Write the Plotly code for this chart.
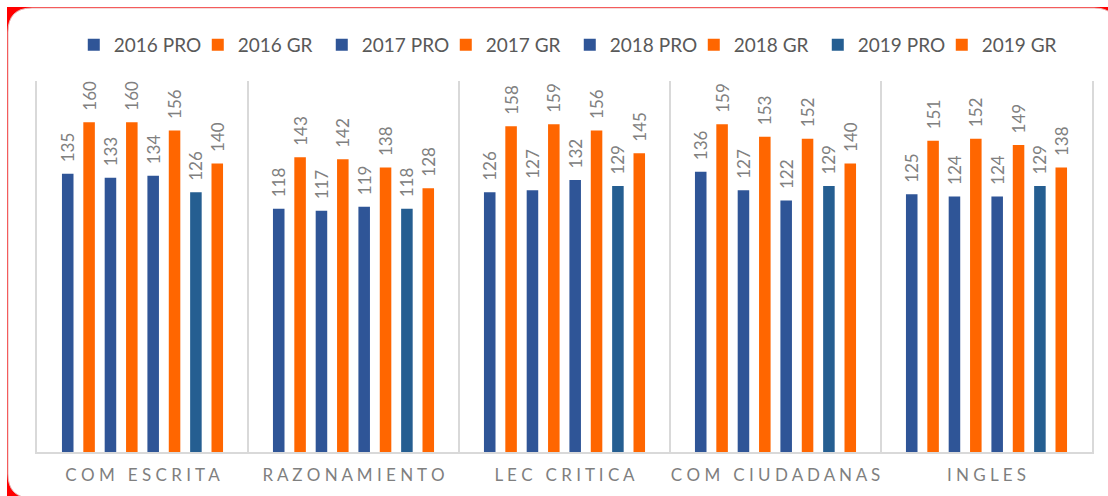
import plotly.graph_objects as go

categories = ["COM ESCRITA", "RAZONAMIENTO", "LEC CRITICA", "COM CIUDADANAS", "INGLES"]
series_names = ["2016 PRO", "2016 GR", "2017 PRO", "2017 GR", "2018 PRO", "2018 GR", "2019 PRO", "2019 GR"]
pro_2016 = [135, 118, 126, 136, 125]
gr_2016 = [160, 143, 158, 159, 151]
pro_2017 = [133, 117, 127, 127, 124]
gr_2017 = [160, 142, 159, 153, 152]
pro_2018 = [134, 119, 132, 122, 124]
gr_2018 = [156, 138, 156, 152, 149]
pro_2019 = [126, 118, 129, 129, 129]
gr_2019 = [140, 128, 145, 140, 138]
series_values = [pro_2016, gr_2016, pro_2017, gr_2017, pro_2018, gr_2018, pro_2019, gr_2019]
series_colors = ["#2F5597", "#FF6600", "#2F5597", "#FF6600", "#2F5597", "#FF6600", "#255E91", "#FF6600"]

W, H = 1108, 496
ML, MR, MT, MB = 37, 16, 81, 44

def spaced(label):
    return "   ".join(" ".join(word) for word in label.split(" "))

fig = go.Figure()
for name, vals, col in zip(series_names, series_values, series_colors):
    fig.add_trace(go.Bar(
        name=name, x=categories, y=vals,
        marker=dict(color=col, line=dict(width=0)),
        text=vals, texttemplate="\u2002%{y}", textposition="outside",
        textangle=-90, constraintext="none", cliponaxis=False,
        textfont=dict(family="Lato", size=17, color="#808080"),
    ))

# decorative frame (pixel -> paper helpers)
def px(x):
    return (x - ML) / (W - ML - MR)

def py(y):
    return (H - MB - y) / (H - MT - MB)

shapes = []
shapes.append(dict(type="rect", xref="paper", yref="paper", x0=px(7), x1=px(W + 20), y0=py(7), y1=py(H + 20),
                   fillcolor="#FF0000", line=dict(width=0), layer="below"))
r = 24
x0, y0, x1, y1 = 8, 8, W + 10, H + 2
path = (f"M {px(x0 + r)},{py(y0)} L {px(x1 - r)},{py(y0)} Q {px(x1)},{py(y0)} {px(x1)},{py(y0 + r)} "
        f"L {px(x1)},{py(y1 - r)} Q {px(x1)},{py(y1)} {px(x1 - r)},{py(y1)} "
        f"L {px(x0 + r)},{py(y1)} Q {px(x0)},{py(y1)} {px(x0)},{py(y1 - r)} "
        f"L {px(x0)},{py(y0 + r)} Q {px(x0)},{py(y0)} {px(x0 + r)},{py(y0)} Z")
shapes.append(dict(type="path", xref="paper", yref="paper", path=path,
                   fillcolor="white", line=dict(color="#E8B8B8", width=1), layer="below"))
shapes.append(dict(type="rect", xref="paper", yref="paper", x0=px(W - 14), x1=px(W + 20), y0=py(12), y1=py(H + 20),
                   fillcolor="white", line=dict(width=0), layer="below"))
shapes.append(dict(type="rect", xref="paper", yref="paper", x0=px(40), x1=px(W + 20), y0=py(H - 4), y1=py(H + 20),
                   fillcolor="white", line=dict(width=0), layer="below"))

fig.update_layout(
    width=W, height=H,
    margin=dict(l=ML, r=MR, t=MT, b=MB, autoexpand=False),
    paper_bgcolor="white", plot_bgcolor="rgba(0,0,0,0)",
    barmode="group", bargap=0.19, bargroupgap=0.46,
    font=dict(family="Lato", color="#595959"),
    showlegend=True,
    legend=dict(orientation="h", x=0.505, xanchor="center", y=1 - 26 / H, yref="container", yanchor="top",
                font=dict(family="Lato", size=19, color="#595959"),
                entrywidth=79, itemwidth=30, traceorder="normal"),
    xaxis=dict(
        tickmode="array", tickvals=categories, ticktext=[spaced(c) for c in categories],
        tickson="boundaries", ticks="", showgrid=True, gridcolor="#D9D9D9", gridwidth=2,
        showline=True, linecolor="#D9D9D9", linewidth=2, tickangle=0,
        tickfont=dict(family="Lato", size=17, color="#7F7F7F"), ticklabelstandoff=7,
    ),
    yaxis=dict(range=[0, 180], showticklabels=False, showgrid=False, zeroline=False,
               showline=True, mirror=True, linecolor="#D9D9D9", linewidth=2, ticks=""),
    shapes=shapes,
)

fig.write_html("out.html", config={"displayModeBar": False},
               post_script="document.body.style.margin='0';document.body.style.overflow='hidden';")
